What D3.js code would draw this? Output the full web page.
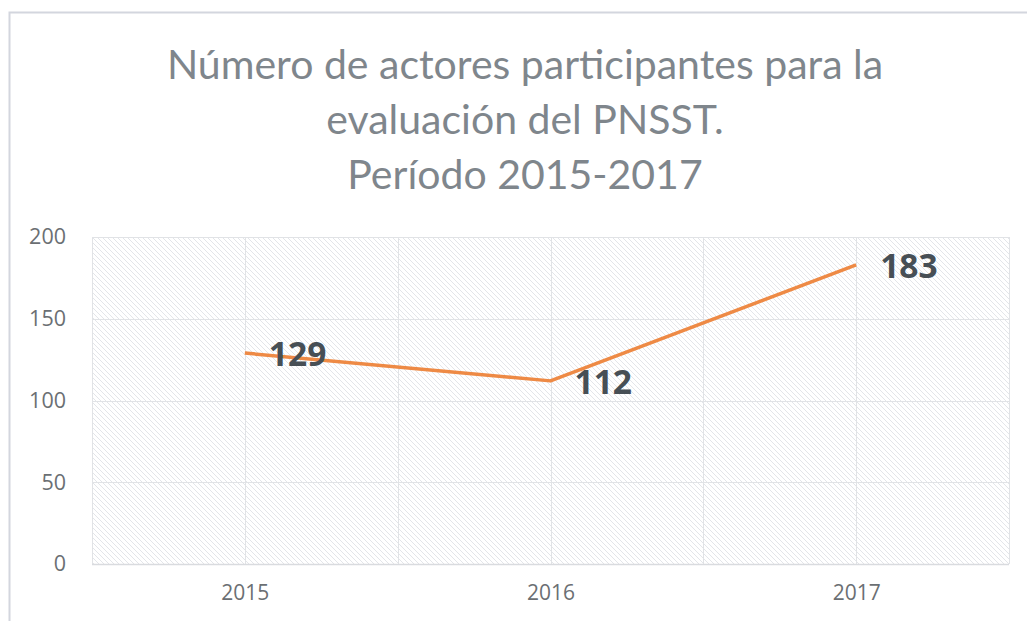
<!DOCTYPE html>
<html>
<head>
<meta charset="utf-8">
<script src="https://cdn.jsdelivr.net/npm/d3@7"></script>
<style>
  body { margin: 0; background: #fff; }
  svg { display: block; }
</style>
</head>
<body>
<div id="chart"></div>
<script>
// data
var years = ["2015", "2016", "2017"];
var actores = [129, 112, 183];
var yTicks = [0, 50, 100, 150, 200];
var titleLines = ["Número de actores participantes para la", "evaluación del PNSST.", "Período 2015-2017"];

var svgWidth = 1027;
var svgHeight = 621;

var margin = { top: 237, right: 18, bottom: 57, left: 92 };
var width = svgWidth - margin.left - margin.right;
var height = svgHeight - margin.top - margin.bottom;

var svg = d3.select("#chart")
  .append("svg")
  .attr("width", svgWidth)
  .attr("height", svgHeight);

// hatch pattern for plot area
var defs = svg.append("defs");
var pat = defs.append("pattern")
  .attr("id", "hatch")
  .attr("patternUnits", "userSpaceOnUse")
  .attr("width", 5)
  .attr("height", 5);
pat.append("rect").attr("width", 5).attr("height", 5).attr("fill", "#fff");
pat.append("path")
  .attr("d", "M-1,-1 L6,6 M-1,4 L1,6 M4,-1 L6,1")
  .attr("stroke", "#e0e2e6")
  .attr("stroke-width", 0.9);

// outer chart border
svg.append("rect")
  .attr("x", 9.5)
  .attr("y", 12.5)
  .attr("width", 1100)
  .attr("height", 700)
  .attr("fill", "none")
  .attr("stroke", "#d3d6de")
  .attr("stroke-width", 2);

// title
svg.append("g").selectAll("text")
  .data(titleLines)
  .enter()
  .append("text")
  .attr("x", 525)
  .attr("y", (d, i) => 79 + i * 55)
  .attr("text-anchor", "middle")
  .attr("font-family", "Lato, 'Open Sans', sans-serif")
  .attr("font-size", 41)
  .attr("fill", "#7f868c")
  .text(d => d);

var chartGroup = svg.append("g")
  .attr("transform", `translate(${margin.left}, ${margin.top})`);

var xBand = d3.scaleBand().domain(years).range([0, width]);
var xScale = d3.scalePoint().domain(years).range([0, width]).padding(0.5);
var yScale = d3.scaleLinear().domain([0, 200]).range([height, 0]);

chartGroup.append("rect")
  .attr("width", width)
  .attr("height", height)
  .attr("fill", "url(#hatch)");

// gridlines
chartGroup.selectAll(".hgrid")
  .data(yTicks)
  .enter()
  .append("line")
  .attr("x1", 0)
  .attr("x2", width)
  .attr("y1", d => Math.round(yScale(d)) + 0.5)
  .attr("y2", d => Math.round(yScale(d)) + 0.5)
  .attr("stroke", "#e1e3e6")
  .attr("stroke-width", 1);

var vLines = [0];
years.forEach(function(y) {
  vLines.push(xScale(y));
  vLines.push(xBand(y) + xBand.bandwidth());
});
chartGroup.selectAll(".vgrid")
  .data(vLines)
  .enter()
  .append("line")
  .attr("x1", d => Math.round(d) + 0.5)
  .attr("x2", d => Math.round(d) + 0.5)
  .attr("y1", 0)
  .attr("y2", height)
  .attr("stroke", "#e1e3e6")
  .attr("stroke-width", 1);

// bottom axis line
chartGroup.append("line")
  .attr("x1", 0)
  .attr("x2", width)
  .attr("y1", height + 0.5)
  .attr("y2", height + 0.5)
  .attr("stroke", "#d9dbdf")
  .attr("stroke-width", 1.5);

// y axis
var leftAxis = d3.axisLeft(yScale).tickValues(yTicks).tickSize(0).tickPadding(26);
var yAxis = chartGroup.append("g").call(leftAxis);
yAxis.select(".domain").remove();
yAxis.selectAll("text")
  .attr("font-family", "'Open Sans', sans-serif")
  .attr("font-size", 21.5)
  .attr("fill", "#6b6f73");

// x axis
var bottomAxis = d3.axisBottom(xScale).tickSize(0).tickPadding(21);
var xAxis = chartGroup.append("g")
  .attr("transform", `translate(0, ${height})`)
  .call(bottomAxis);
xAxis.select(".domain").remove();
xAxis.selectAll("text")
  .attr("font-family", "'Open Sans', sans-serif")
  .attr("font-size", 21)
  .attr("fill", "#6b6f73");

// line
var data = years.map((y, i) => ({ year: y, value: actores[i] }));
var line = d3.line()
  .x(d => xScale(d.year))
  .y(d => yScale(d.value));

chartGroup.append("path")
  .datum(data)
  .attr("d", line)
  .attr("fill", "none")
  .attr("stroke", "#ee8a45")
  .attr("stroke-width", 3.5)
  .attr("stroke-linejoin", "round");

// data labels
chartGroup.selectAll(".lbl")
  .data(data)
  .enter()
  .append("text")
  .attr("x", d => xScale(d.year) + 24)
  .attr("y", d => yScale(d.value) + 13)
  .attr("font-family", "'Open Sans', sans-serif")
  .attr("font-weight", "bold")
  .attr("font-size", 33.5)
  .attr("fill", "#474f55")
  .text(d => d.value);
</script>
</body>
</html>
